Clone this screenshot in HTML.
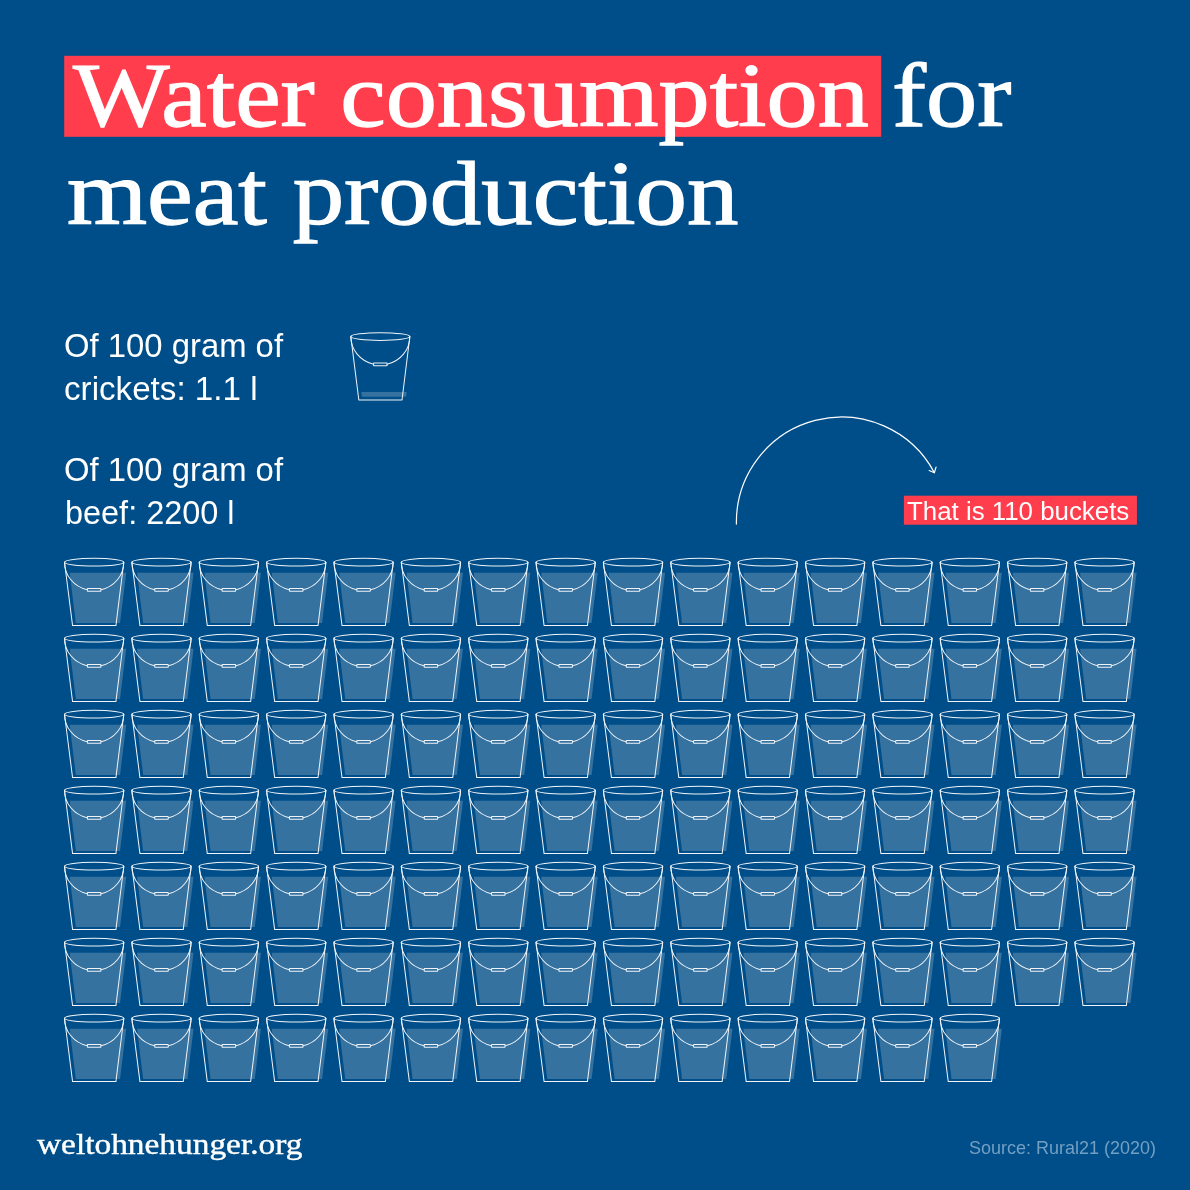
<!DOCTYPE html>
<html lang="en">
<head>
<meta charset="utf-8">
<title>Water consumption for meat production</title>
<style>
html,body{margin:0;padding:0;}
body{width:1190px;height:1190px;overflow:hidden;background:#004e89;position:relative;color:#fff;}
.abs{position:absolute;white-space:nowrap;transform-origin:0 0;margin:0;}
.serif{font-family:"Liberation Serif",serif;}
.sans{font-family:"Liberation Sans",sans-serif;}
h1{margin:0;font-weight:normal;font-size:inherit;}
.h{-webkit-text-stroke:1.25px #fff;}
.hl{position:absolute;left:0;top:0;width:817px;height:81px;background:#ff3d4d;transform:translate(64.2px,55.8px);}
.tag{position:absolute;left:0;top:0;width:233px;height:29px;background:#ff3d4d;transform:translate(903.9px,495.7px);}
.foot{-webkit-text-stroke:0.4px #fff;}
.src{color:#739fc3;}
svg{position:absolute;left:0;top:0;}
</style>
</head>
<body>
<div class="hl"></div>
<h1>
<span id="t1" class="abs serif h" style="left:73.3px;top:49.89px;font-size:91px;line-height:91px;transform:scaleX(1.1243);">Water consumption</span>
<span id="t2" class="abs serif h" style="left:891.8px;top:49.89px;font-size:91px;line-height:91px;transform:scaleX(1.1243);">for</span>
<span id="t3" class="abs serif h" style="left:66.5px;top:147.69px;font-size:91px;line-height:91px;transform:scaleX(1.1306);">meat production</span>
</h1>
<div id="b1" class="abs sans body" style="left:63.8px;top:329.47px;font-size:33px;line-height:33px;transform:scaleX(0.995);">Of 100 gram of</div>
<div id="b2" class="abs sans body" style="left:64.3px;top:372.37px;font-size:33px;line-height:33px;transform:scaleX(1.005);">crickets: 1.1 l</div>
<div id="b3" class="abs sans body" style="left:63.8px;top:453.47px;font-size:33px;line-height:33px;transform:scaleX(0.995);">Of 100 gram of</div>
<div id="b4" class="abs sans body" style="left:64.8px;top:496.37px;font-size:33px;line-height:33px;transform:scaleX(0.983);">beef: 2200 l</div>
<div class="tag"></div>
<div id="tg" class="abs sans tagt" style="left:907.2px;top:498.83px;font-size:25.6px;line-height:25.6px;transform:scaleX(1.01);">That is 110 buckets</div>
<svg width="1190" height="1190" viewBox="0 0 1190 1190">
<defs>
<g id="bo" fill="none" stroke="#f0f4f8" stroke-width="1" stroke-linejoin="round" stroke-linecap="round">
<ellipse cx="30" cy="5.1" rx="29.4" ry="3.9"/>
<path d="M0.6 5.1 L8.6 68.5 L51.6 68.5 L59.4 5.1"/>
<path d="M0.6 5.1 A29.4 28.3 0 0 0 23.2 32.7"/>
<path d="M59.4 5.1 A29.4 28.3 0 0 1 36.8 32.7"/>
<rect x="23.3" y="31.5" width="13.4" height="2.7" rx="0.3"/>
</g>
<g id="bk" transform="scale(1.008 1)">
<polygon points="5.7,15.55 61.8,15.55 55.7,65.8 11.8,65.8" fill="#3572a0"/>
<use href="#bo"/>
</g>
</defs>
<!-- cricket bucket -->
<g transform="translate(350.2 331.5) scale(1.004 1)">
<polygon points="11.1,60.5 56.3,60.5 55.7,65.3 11.7,65.3" fill="#3572a0"/>
<use href="#bo"/>
</g>
<!-- arrow -->
<g fill="none" stroke="#fff" stroke-width="1.2" stroke-linecap="round" stroke-linejoin="round">
<path d="M736.4 524.1 A105.2 105.2 0 0 1 934.4 472.7"/>
<path d="M929.2 470.5 L934.4 472.7 L936.05 467.1"/>
</g>
<!-- 110 buckets -->
<use href="#bk" x="63.90" y="557.10"/>
<use href="#bk" x="131.26" y="557.10"/>
<use href="#bk" x="198.62" y="557.10"/>
<use href="#bk" x="265.98" y="557.10"/>
<use href="#bk" x="333.34" y="557.10"/>
<use href="#bk" x="400.70" y="557.10"/>
<use href="#bk" x="468.06" y="557.10"/>
<use href="#bk" x="535.42" y="557.10"/>
<use href="#bk" x="602.78" y="557.10"/>
<use href="#bk" x="670.14" y="557.10"/>
<use href="#bk" x="737.50" y="557.10"/>
<use href="#bk" x="804.86" y="557.10"/>
<use href="#bk" x="872.22" y="557.10"/>
<use href="#bk" x="939.58" y="557.10"/>
<use href="#bk" x="1006.94" y="557.10"/>
<use href="#bk" x="1074.30" y="557.10"/>
<use href="#bk" x="63.90" y="633.10"/>
<use href="#bk" x="131.26" y="633.10"/>
<use href="#bk" x="198.62" y="633.10"/>
<use href="#bk" x="265.98" y="633.10"/>
<use href="#bk" x="333.34" y="633.10"/>
<use href="#bk" x="400.70" y="633.10"/>
<use href="#bk" x="468.06" y="633.10"/>
<use href="#bk" x="535.42" y="633.10"/>
<use href="#bk" x="602.78" y="633.10"/>
<use href="#bk" x="670.14" y="633.10"/>
<use href="#bk" x="737.50" y="633.10"/>
<use href="#bk" x="804.86" y="633.10"/>
<use href="#bk" x="872.22" y="633.10"/>
<use href="#bk" x="939.58" y="633.10"/>
<use href="#bk" x="1006.94" y="633.10"/>
<use href="#bk" x="1074.30" y="633.10"/>
<use href="#bk" x="63.90" y="709.10"/>
<use href="#bk" x="131.26" y="709.10"/>
<use href="#bk" x="198.62" y="709.10"/>
<use href="#bk" x="265.98" y="709.10"/>
<use href="#bk" x="333.34" y="709.10"/>
<use href="#bk" x="400.70" y="709.10"/>
<use href="#bk" x="468.06" y="709.10"/>
<use href="#bk" x="535.42" y="709.10"/>
<use href="#bk" x="602.78" y="709.10"/>
<use href="#bk" x="670.14" y="709.10"/>
<use href="#bk" x="737.50" y="709.10"/>
<use href="#bk" x="804.86" y="709.10"/>
<use href="#bk" x="872.22" y="709.10"/>
<use href="#bk" x="939.58" y="709.10"/>
<use href="#bk" x="1006.94" y="709.10"/>
<use href="#bk" x="1074.30" y="709.10"/>
<use href="#bk" x="63.90" y="785.10"/>
<use href="#bk" x="131.26" y="785.10"/>
<use href="#bk" x="198.62" y="785.10"/>
<use href="#bk" x="265.98" y="785.10"/>
<use href="#bk" x="333.34" y="785.10"/>
<use href="#bk" x="400.70" y="785.10"/>
<use href="#bk" x="468.06" y="785.10"/>
<use href="#bk" x="535.42" y="785.10"/>
<use href="#bk" x="602.78" y="785.10"/>
<use href="#bk" x="670.14" y="785.10"/>
<use href="#bk" x="737.50" y="785.10"/>
<use href="#bk" x="804.86" y="785.10"/>
<use href="#bk" x="872.22" y="785.10"/>
<use href="#bk" x="939.58" y="785.10"/>
<use href="#bk" x="1006.94" y="785.10"/>
<use href="#bk" x="1074.30" y="785.10"/>
<use href="#bk" x="63.90" y="861.10"/>
<use href="#bk" x="131.26" y="861.10"/>
<use href="#bk" x="198.62" y="861.10"/>
<use href="#bk" x="265.98" y="861.10"/>
<use href="#bk" x="333.34" y="861.10"/>
<use href="#bk" x="400.70" y="861.10"/>
<use href="#bk" x="468.06" y="861.10"/>
<use href="#bk" x="535.42" y="861.10"/>
<use href="#bk" x="602.78" y="861.10"/>
<use href="#bk" x="670.14" y="861.10"/>
<use href="#bk" x="737.50" y="861.10"/>
<use href="#bk" x="804.86" y="861.10"/>
<use href="#bk" x="872.22" y="861.10"/>
<use href="#bk" x="939.58" y="861.10"/>
<use href="#bk" x="1006.94" y="861.10"/>
<use href="#bk" x="1074.30" y="861.10"/>
<use href="#bk" x="63.90" y="937.10"/>
<use href="#bk" x="131.26" y="937.10"/>
<use href="#bk" x="198.62" y="937.10"/>
<use href="#bk" x="265.98" y="937.10"/>
<use href="#bk" x="333.34" y="937.10"/>
<use href="#bk" x="400.70" y="937.10"/>
<use href="#bk" x="468.06" y="937.10"/>
<use href="#bk" x="535.42" y="937.10"/>
<use href="#bk" x="602.78" y="937.10"/>
<use href="#bk" x="670.14" y="937.10"/>
<use href="#bk" x="737.50" y="937.10"/>
<use href="#bk" x="804.86" y="937.10"/>
<use href="#bk" x="872.22" y="937.10"/>
<use href="#bk" x="939.58" y="937.10"/>
<use href="#bk" x="1006.94" y="937.10"/>
<use href="#bk" x="1074.30" y="937.10"/>
<use href="#bk" x="63.90" y="1013.10"/>
<use href="#bk" x="131.26" y="1013.10"/>
<use href="#bk" x="198.62" y="1013.10"/>
<use href="#bk" x="265.98" y="1013.10"/>
<use href="#bk" x="333.34" y="1013.10"/>
<use href="#bk" x="400.70" y="1013.10"/>
<use href="#bk" x="468.06" y="1013.10"/>
<use href="#bk" x="535.42" y="1013.10"/>
<use href="#bk" x="602.78" y="1013.10"/>
<use href="#bk" x="670.14" y="1013.10"/>
<use href="#bk" x="737.50" y="1013.10"/>
<use href="#bk" x="804.86" y="1013.10"/>
<use href="#bk" x="872.22" y="1013.10"/>
<use href="#bk" x="939.58" y="1013.10"/>
</svg>
<div id="ft" class="abs serif foot" style="left:36.5px;top:1129.78px;font-size:28.8px;line-height:28.8px;transform:scaleX(1.159);">weltohnehunger.org</div>
<div id="sr" class="abs sans src" style="left:968.5px;top:1139.92px;font-size:17.7px;line-height:17.7px;transform:scaleX(1.0176);">Source: Rural21 (2020)</div>
</body>
</html>
